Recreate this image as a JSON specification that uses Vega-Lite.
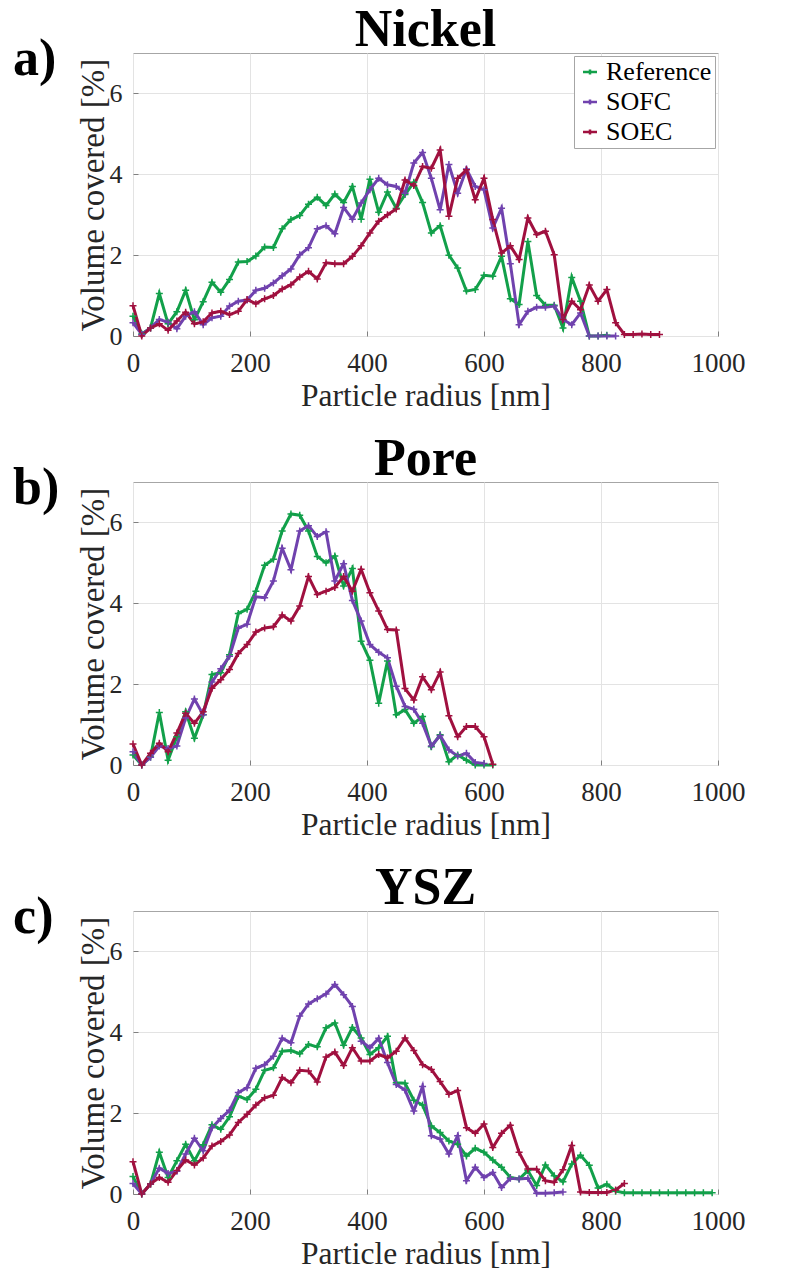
{
"$schema": "https://vega.github.io/schema/vega-lite/v6.json",
"padding": {"left": 12, "top": 3, "right": 5, "bottom": 0},
"background": "white",
"config": {
 "font": "Liberation Serif",
 "view": {"stroke": "#A6A6A6", "strokeWidth": 1},
 "axis": {"labelFont": "Liberation Serif", "labelColor": "#262626", "titleFont": "Liberation Serif", "titleFontWeight": "normal", "titleColor": "#262626", "gridColor": "#E3E3E3", "gridWidth": 1, "domain": false, "tickColor": "#808080", "tickSize": -5, "labelFlush": false},
 "axisX": {"labelFontSize": 27, "labelPadding": 19, "titleFontSize": 31.5, "titlePadding": 4, "format": "d"},
 "axisY": {"labelFontSize": 26, "labelPadding": 16, "titleFontSize": 33, "titlePadding": -1},
 "title": {"font": "Liberation Serif", "fontSize": 52, "fontWeight": "bold", "color": "#000000", "baseline": "alphabetic", "offset": -24, "frame": "group"},
 "concat": {"spacing": 20}
},
"datasets": {"d": [
{"p":"a","s":"Reference","r":0,"v":0.49},{"p":"a","s":"Reference","r":15,"v":0.05},{"p":"a","s":"Reference","r":30,"v":0.2},{"p":"a","s":"Reference","r":45,"v":1.05},{"p":"a","s":"Reference","r":60,"v":0.3},{"p":"a","s":"Reference","r":75,"v":0.6},{"p":"a","s":"Reference","r":90,"v":1.13},{"p":"a","s":"Reference","r":105,"v":0.4},{"p":"a","s":"Reference","r":120,"v":0.85},{"p":"a","s":"Reference","r":135,"v":1.33},{"p":"a","s":"Reference","r":150,"v":1.08},{"p":"a","s":"Reference","r":165,"v":1.4},{"p":"a","s":"Reference","r":180,"v":1.83},{"p":"a","s":"Reference","r":195,"v":1.84},{"p":"a","s":"Reference","r":210,"v":1.98},{"p":"a","s":"Reference","r":225,"v":2.2},{"p":"a","s":"Reference","r":240,"v":2.19},{"p":"a","s":"Reference","r":255,"v":2.65},{"p":"a","s":"Reference","r":270,"v":2.88},{"p":"a","s":"Reference","r":285,"v":2.98},{"p":"a","s":"Reference","r":300,"v":3.26},{"p":"a","s":"Reference","r":315,"v":3.43},{"p":"a","s":"Reference","r":330,"v":3.23},{"p":"a","s":"Reference","r":345,"v":3.51},{"p":"a","s":"Reference","r":360,"v":3.3},{"p":"a","s":"Reference","r":375,"v":3.7},{"p":"a","s":"Reference","r":390,"v":2.89},{"p":"a","s":"Reference","r":405,"v":3.88},{"p":"a","s":"Reference","r":420,"v":3.06},{"p":"a","s":"Reference","r":435,"v":3.56},{"p":"a","s":"Reference","r":450,"v":3.16},{"p":"a","s":"Reference","r":465,"v":3.5},{"p":"a","s":"Reference","r":480,"v":3.8},{"p":"a","s":"Reference","r":495,"v":3.3},{"p":"a","s":"Reference","r":510,"v":2.55},{"p":"a","s":"Reference","r":525,"v":2.73},{"p":"a","s":"Reference","r":540,"v":2.0},{"p":"a","s":"Reference","r":555,"v":1.68},{"p":"a","s":"Reference","r":570,"v":1.11},{"p":"a","s":"Reference","r":585,"v":1.15},{"p":"a","s":"Reference","r":600,"v":1.5},{"p":"a","s":"Reference","r":615,"v":1.48},{"p":"a","s":"Reference","r":630,"v":1.97},{"p":"a","s":"Reference","r":645,"v":0.92},{"p":"a","s":"Reference","r":660,"v":0.78},{"p":"a","s":"Reference","r":675,"v":2.34},{"p":"a","s":"Reference","r":690,"v":1.0},{"p":"a","s":"Reference","r":705,"v":0.76},{"p":"a","s":"Reference","r":720,"v":0.76},{"p":"a","s":"Reference","r":735,"v":0.2},{"p":"a","s":"Reference","r":750,"v":1.45},{"p":"a","s":"Reference","r":765,"v":0.86},{"p":"a","s":"Reference","r":780,"v":0.0},{"p":"a","s":"Reference","r":795,"v":0.0},{"p":"a","s":"Reference","r":810,"v":0.02},
{"p":"a","s":"SOFC","r":0,"v":0.33},{"p":"a","s":"SOFC","r":15,"v":0.04},{"p":"a","s":"SOFC","r":30,"v":0.2},{"p":"a","s":"SOFC","r":45,"v":0.41},{"p":"a","s":"SOFC","r":60,"v":0.34},{"p":"a","s":"SOFC","r":75,"v":0.18},{"p":"a","s":"SOFC","r":90,"v":0.49},{"p":"a","s":"SOFC","r":105,"v":0.6},{"p":"a","s":"SOFC","r":120,"v":0.28},{"p":"a","s":"SOFC","r":135,"v":0.45},{"p":"a","s":"SOFC","r":150,"v":0.49},{"p":"a","s":"SOFC","r":165,"v":0.74},{"p":"a","s":"SOFC","r":180,"v":0.86},{"p":"a","s":"SOFC","r":195,"v":0.89},{"p":"a","s":"SOFC","r":210,"v":1.13},{"p":"a","s":"SOFC","r":225,"v":1.18},{"p":"a","s":"SOFC","r":240,"v":1.31},{"p":"a","s":"SOFC","r":255,"v":1.49},{"p":"a","s":"SOFC","r":270,"v":1.66},{"p":"a","s":"SOFC","r":285,"v":2.01},{"p":"a","s":"SOFC","r":300,"v":2.18},{"p":"a","s":"SOFC","r":315,"v":2.65},{"p":"a","s":"SOFC","r":330,"v":2.73},{"p":"a","s":"SOFC","r":345,"v":2.53},{"p":"a","s":"SOFC","r":360,"v":3.18},{"p":"a","s":"SOFC","r":375,"v":2.89},{"p":"a","s":"SOFC","r":390,"v":3.29},{"p":"a","s":"SOFC","r":405,"v":3.62},{"p":"a","s":"SOFC","r":420,"v":3.9},{"p":"a","s":"SOFC","r":435,"v":3.74},{"p":"a","s":"SOFC","r":450,"v":3.7},{"p":"a","s":"SOFC","r":465,"v":3.53},{"p":"a","s":"SOFC","r":480,"v":4.28},{"p":"a","s":"SOFC","r":495,"v":4.54},{"p":"a","s":"SOFC","r":510,"v":3.9},{"p":"a","s":"SOFC","r":525,"v":3.12},{"p":"a","s":"SOFC","r":540,"v":4.24},{"p":"a","s":"SOFC","r":555,"v":3.53},{"p":"a","s":"SOFC","r":570,"v":4.13},{"p":"a","s":"SOFC","r":585,"v":3.7},{"p":"a","s":"SOFC","r":600,"v":3.62},{"p":"a","s":"SOFC","r":615,"v":2.67},{"p":"a","s":"SOFC","r":630,"v":3.16},{"p":"a","s":"SOFC","r":645,"v":1.79},{"p":"a","s":"SOFC","r":660,"v":0.28},{"p":"a","s":"SOFC","r":675,"v":0.61},{"p":"a","s":"SOFC","r":690,"v":0.71},{"p":"a","s":"SOFC","r":705,"v":0.71},{"p":"a","s":"SOFC","r":720,"v":0.74},{"p":"a","s":"SOFC","r":735,"v":0.41},{"p":"a","s":"SOFC","r":750,"v":0.28},{"p":"a","s":"SOFC","r":765,"v":0.57},{"p":"a","s":"SOFC","r":780,"v":0.0},{"p":"a","s":"SOFC","r":795,"v":0.0},{"p":"a","s":"SOFC","r":810,"v":0.0},{"p":"a","s":"SOFC","r":825,"v":0.0},
{"p":"a","s":"SOEC","r":0,"v":0.75},{"p":"a","s":"SOEC","r":15,"v":0.0},{"p":"a","s":"SOEC","r":30,"v":0.2},{"p":"a","s":"SOEC","r":45,"v":0.3},{"p":"a","s":"SOEC","r":60,"v":0.14},{"p":"a","s":"SOEC","r":75,"v":0.37},{"p":"a","s":"SOEC","r":90,"v":0.59},{"p":"a","s":"SOEC","r":105,"v":0.3},{"p":"a","s":"SOEC","r":120,"v":0.35},{"p":"a","s":"SOEC","r":135,"v":0.57},{"p":"a","s":"SOEC","r":150,"v":0.61},{"p":"a","s":"SOEC","r":165,"v":0.53},{"p":"a","s":"SOEC","r":180,"v":0.61},{"p":"a","s":"SOEC","r":195,"v":0.9},{"p":"a","s":"SOEC","r":210,"v":0.8},{"p":"a","s":"SOEC","r":225,"v":0.92},{"p":"a","s":"SOEC","r":240,"v":1.0},{"p":"a","s":"SOEC","r":255,"v":1.16},{"p":"a","s":"SOEC","r":270,"v":1.27},{"p":"a","s":"SOEC","r":285,"v":1.46},{"p":"a","s":"SOEC","r":300,"v":1.6},{"p":"a","s":"SOEC","r":315,"v":1.41},{"p":"a","s":"SOEC","r":330,"v":1.81},{"p":"a","s":"SOEC","r":345,"v":1.79},{"p":"a","s":"SOEC","r":360,"v":1.79},{"p":"a","s":"SOEC","r":375,"v":1.97},{"p":"a","s":"SOEC","r":390,"v":2.23},{"p":"a","s":"SOEC","r":405,"v":2.55},{"p":"a","s":"SOEC","r":420,"v":2.84},{"p":"a","s":"SOEC","r":435,"v":3.0},{"p":"a","s":"SOEC","r":450,"v":3.14},{"p":"a","s":"SOEC","r":465,"v":3.86},{"p":"a","s":"SOEC","r":480,"v":3.72},{"p":"a","s":"SOEC","r":495,"v":4.19},{"p":"a","s":"SOEC","r":510,"v":4.15},{"p":"a","s":"SOEC","r":525,"v":4.6},{"p":"a","s":"SOEC","r":540,"v":2.96},{"p":"a","s":"SOEC","r":555,"v":3.9},{"p":"a","s":"SOEC","r":570,"v":4.11},{"p":"a","s":"SOEC","r":585,"v":3.37},{"p":"a","s":"SOEC","r":600,"v":3.9},{"p":"a","s":"SOEC","r":615,"v":2.88},{"p":"a","s":"SOEC","r":630,"v":2.05},{"p":"a","s":"SOEC","r":645,"v":2.23},{"p":"a","s":"SOEC","r":660,"v":1.89},{"p":"a","s":"SOEC","r":675,"v":2.92},{"p":"a","s":"SOEC","r":690,"v":2.51},{"p":"a","s":"SOEC","r":705,"v":2.59},{"p":"a","s":"SOEC","r":720,"v":2.01},{"p":"a","s":"SOEC","r":735,"v":0.41},{"p":"a","s":"SOEC","r":750,"v":0.86},{"p":"a","s":"SOEC","r":765,"v":0.65},{"p":"a","s":"SOEC","r":780,"v":1.26},{"p":"a","s":"SOEC","r":795,"v":0.86},{"p":"a","s":"SOEC","r":810,"v":1.15},{"p":"a","s":"SOEC","r":825,"v":0.33},{"p":"a","s":"SOEC","r":840,"v":0.04},{"p":"a","s":"SOEC","r":855,"v":0.04},{"p":"a","s":"SOEC","r":870,"v":0.05},{"p":"a","s":"SOEC","r":885,"v":0.04},{"p":"a","s":"SOEC","r":900,"v":0.04},
{"p":"b","s":"Reference","r":0,"v":0.25},{"p":"b","s":"Reference","r":15,"v":0.0},{"p":"b","s":"Reference","r":30,"v":0.2},{"p":"b","s":"Reference","r":45,"v":1.3},{"p":"b","s":"Reference","r":60,"v":0.12},{"p":"b","s":"Reference","r":75,"v":0.7},{"p":"b","s":"Reference","r":90,"v":1.32},{"p":"b","s":"Reference","r":105,"v":0.66},{"p":"b","s":"Reference","r":120,"v":1.24},{"p":"b","s":"Reference","r":135,"v":2.24},{"p":"b","s":"Reference","r":150,"v":2.28},{"p":"b","s":"Reference","r":165,"v":2.73},{"p":"b","s":"Reference","r":180,"v":3.75},{"p":"b","s":"Reference","r":195,"v":3.85},{"p":"b","s":"Reference","r":210,"v":4.3},{"p":"b","s":"Reference","r":225,"v":4.94},{"p":"b","s":"Reference","r":240,"v":5.09},{"p":"b","s":"Reference","r":255,"v":5.79},{"p":"b","s":"Reference","r":270,"v":6.21},{"p":"b","s":"Reference","r":285,"v":6.18},{"p":"b","s":"Reference","r":300,"v":5.79},{"p":"b","s":"Reference","r":315,"v":5.16},{"p":"b","s":"Reference","r":330,"v":5.0},{"p":"b","s":"Reference","r":345,"v":5.17},{"p":"b","s":"Reference","r":360,"v":4.43},{"p":"b","s":"Reference","r":375,"v":4.86},{"p":"b","s":"Reference","r":390,"v":3.06},{"p":"b","s":"Reference","r":405,"v":2.59},{"p":"b","s":"Reference","r":420,"v":1.53},{"p":"b","s":"Reference","r":435,"v":2.57},{"p":"b","s":"Reference","r":450,"v":1.24},{"p":"b","s":"Reference","r":465,"v":1.37},{"p":"b","s":"Reference","r":480,"v":1.03},{"p":"b","s":"Reference","r":495,"v":1.2},{"p":"b","s":"Reference","r":510,"v":0.45},{"p":"b","s":"Reference","r":525,"v":0.75},{"p":"b","s":"Reference","r":540,"v":0.08},{"p":"b","s":"Reference","r":555,"v":0.25},{"p":"b","s":"Reference","r":570,"v":0.12},{"p":"b","s":"Reference","r":585,"v":0.0},{"p":"b","s":"Reference","r":600,"v":0.0},{"p":"b","s":"Reference","r":615,"v":0.0},
{"p":"b","s":"SOFC","r":0,"v":0.33},{"p":"b","s":"SOFC","r":15,"v":0.0},{"p":"b","s":"SOFC","r":30,"v":0.19},{"p":"b","s":"SOFC","r":45,"v":0.47},{"p":"b","s":"SOFC","r":60,"v":0.41},{"p":"b","s":"SOFC","r":75,"v":0.47},{"p":"b","s":"SOFC","r":90,"v":1.16},{"p":"b","s":"SOFC","r":105,"v":1.63},{"p":"b","s":"SOFC","r":120,"v":1.24},{"p":"b","s":"SOFC","r":135,"v":2.05},{"p":"b","s":"SOFC","r":150,"v":2.38},{"p":"b","s":"SOFC","r":165,"v":2.69},{"p":"b","s":"SOFC","r":180,"v":3.39},{"p":"b","s":"SOFC","r":195,"v":3.48},{"p":"b","s":"SOFC","r":210,"v":4.16},{"p":"b","s":"SOFC","r":225,"v":4.14},{"p":"b","s":"SOFC","r":240,"v":4.55},{"p":"b","s":"SOFC","r":255,"v":5.36},{"p":"b","s":"SOFC","r":270,"v":4.83},{"p":"b","s":"SOFC","r":285,"v":5.79},{"p":"b","s":"SOFC","r":300,"v":5.92},{"p":"b","s":"SOFC","r":315,"v":5.65},{"p":"b","s":"SOFC","r":330,"v":5.77},{"p":"b","s":"SOFC","r":345,"v":4.55},{"p":"b","s":"SOFC","r":360,"v":4.98},{"p":"b","s":"SOFC","r":375,"v":4.07},{"p":"b","s":"SOFC","r":390,"v":3.56},{"p":"b","s":"SOFC","r":405,"v":2.98},{"p":"b","s":"SOFC","r":420,"v":2.79},{"p":"b","s":"SOFC","r":435,"v":2.65},{"p":"b","s":"SOFC","r":450,"v":1.95},{"p":"b","s":"SOFC","r":465,"v":1.45},{"p":"b","s":"SOFC","r":480,"v":1.38},{"p":"b","s":"SOFC","r":495,"v":1.03},{"p":"b","s":"SOFC","r":510,"v":0.47},{"p":"b","s":"SOFC","r":525,"v":0.73},{"p":"b","s":"SOFC","r":540,"v":0.37},{"p":"b","s":"SOFC","r":555,"v":0.22},{"p":"b","s":"SOFC","r":570,"v":0.29},{"p":"b","s":"SOFC","r":585,"v":0.06},{"p":"b","s":"SOFC","r":600,"v":0.04},
{"p":"b","s":"SOEC","r":0,"v":0.52},{"p":"b","s":"SOEC","r":15,"v":0.0},{"p":"b","s":"SOEC","r":30,"v":0.29},{"p":"b","s":"SOEC","r":45,"v":0.54},{"p":"b","s":"SOEC","r":60,"v":0.33},{"p":"b","s":"SOEC","r":75,"v":0.79},{"p":"b","s":"SOEC","r":90,"v":1.28},{"p":"b","s":"SOEC","r":105,"v":1.03},{"p":"b","s":"SOEC","r":120,"v":1.32},{"p":"b","s":"SOEC","r":135,"v":1.9},{"p":"b","s":"SOEC","r":150,"v":2.11},{"p":"b","s":"SOEC","r":165,"v":2.36},{"p":"b","s":"SOEC","r":180,"v":2.76},{"p":"b","s":"SOEC","r":195,"v":2.98},{"p":"b","s":"SOEC","r":210,"v":3.29},{"p":"b","s":"SOEC","r":225,"v":3.39},{"p":"b","s":"SOEC","r":240,"v":3.42},{"p":"b","s":"SOEC","r":255,"v":3.71},{"p":"b","s":"SOEC","r":270,"v":3.56},{"p":"b","s":"SOEC","r":285,"v":3.93},{"p":"b","s":"SOEC","r":300,"v":4.66},{"p":"b","s":"SOEC","r":315,"v":4.22},{"p":"b","s":"SOEC","r":330,"v":4.3},{"p":"b","s":"SOEC","r":345,"v":4.39},{"p":"b","s":"SOEC","r":360,"v":4.66},{"p":"b","s":"SOEC","r":375,"v":4.3},{"p":"b","s":"SOEC","r":390,"v":4.84},{"p":"b","s":"SOEC","r":405,"v":4.26},{"p":"b","s":"SOEC","r":420,"v":3.81},{"p":"b","s":"SOEC","r":435,"v":3.35},{"p":"b","s":"SOEC","r":450,"v":3.34},{"p":"b","s":"SOEC","r":465,"v":1.89},{"p":"b","s":"SOEC","r":480,"v":1.61},{"p":"b","s":"SOEC","r":495,"v":2.18},{"p":"b","s":"SOEC","r":510,"v":1.86},{"p":"b","s":"SOEC","r":525,"v":2.3},{"p":"b","s":"SOEC","r":540,"v":1.22},{"p":"b","s":"SOEC","r":555,"v":0.7},{"p":"b","s":"SOEC","r":570,"v":0.95},{"p":"b","s":"SOEC","r":585,"v":0.95},{"p":"b","s":"SOEC","r":600,"v":0.7},{"p":"b","s":"SOEC","r":615,"v":0.02},
{"p":"c","s":"Reference","r":0,"v":0.43},{"p":"c","s":"Reference","r":15,"v":0.0},{"p":"c","s":"Reference","r":30,"v":0.25},{"p":"c","s":"Reference","r":45,"v":1.03},{"p":"c","s":"Reference","r":60,"v":0.41},{"p":"c","s":"Reference","r":75,"v":0.82},{"p":"c","s":"Reference","r":90,"v":1.23},{"p":"c","s":"Reference","r":105,"v":0.82},{"p":"c","s":"Reference","r":120,"v":1.22},{"p":"c","s":"Reference","r":135,"v":1.71},{"p":"c","s":"Reference","r":150,"v":1.6},{"p":"c","s":"Reference","r":165,"v":1.91},{"p":"c","s":"Reference","r":180,"v":2.42},{"p":"c","s":"Reference","r":195,"v":2.34},{"p":"c","s":"Reference","r":210,"v":2.59},{"p":"c","s":"Reference","r":225,"v":3.06},{"p":"c","s":"Reference","r":240,"v":3.12},{"p":"c","s":"Reference","r":255,"v":3.53},{"p":"c","s":"Reference","r":270,"v":3.55},{"p":"c","s":"Reference","r":285,"v":3.47},{"p":"c","s":"Reference","r":300,"v":3.7},{"p":"c","s":"Reference","r":315,"v":3.64},{"p":"c","s":"Reference","r":330,"v":4.11},{"p":"c","s":"Reference","r":345,"v":4.23},{"p":"c","s":"Reference","r":360,"v":3.68},{"p":"c","s":"Reference","r":375,"v":4.12},{"p":"c","s":"Reference","r":390,"v":3.86},{"p":"c","s":"Reference","r":405,"v":3.45},{"p":"c","s":"Reference","r":420,"v":3.62},{"p":"c","s":"Reference","r":435,"v":3.9},{"p":"c","s":"Reference","r":450,"v":2.75},{"p":"c","s":"Reference","r":465,"v":2.74},{"p":"c","s":"Reference","r":480,"v":2.32},{"p":"c","s":"Reference","r":495,"v":2.2},{"p":"c","s":"Reference","r":510,"v":1.68},{"p":"c","s":"Reference","r":525,"v":1.52},{"p":"c","s":"Reference","r":540,"v":1.31},{"p":"c","s":"Reference","r":555,"v":1.23},{"p":"c","s":"Reference","r":570,"v":0.94},{"p":"c","s":"Reference","r":585,"v":1.13},{"p":"c","s":"Reference","r":600,"v":1.03},{"p":"c","s":"Reference","r":615,"v":0.84},{"p":"c","s":"Reference","r":630,"v":0.66},{"p":"c","s":"Reference","r":645,"v":0.41},{"p":"c","s":"Reference","r":660,"v":0.37},{"p":"c","s":"Reference","r":675,"v":0.58},{"p":"c","s":"Reference","r":690,"v":0.21},{"p":"c","s":"Reference","r":705,"v":0.72},{"p":"c","s":"Reference","r":720,"v":0.45},{"p":"c","s":"Reference","r":735,"v":0.3},{"p":"c","s":"Reference","r":750,"v":0.74},{"p":"c","s":"Reference","r":765,"v":0.96},{"p":"c","s":"Reference","r":780,"v":0.71},{"p":"c","s":"Reference","r":795,"v":0.15},{"p":"c","s":"Reference","r":810,"v":0.24},{"p":"c","s":"Reference","r":825,"v":0.07},{"p":"c","s":"Reference","r":840,"v":0.03},{"p":"c","s":"Reference","r":855,"v":0.03},{"p":"c","s":"Reference","r":870,"v":0.03},{"p":"c","s":"Reference","r":885,"v":0.03},{"p":"c","s":"Reference","r":900,"v":0.03},{"p":"c","s":"Reference","r":915,"v":0.03},{"p":"c","s":"Reference","r":930,"v":0.03},{"p":"c","s":"Reference","r":945,"v":0.03},{"p":"c","s":"Reference","r":960,"v":0.03},{"p":"c","s":"Reference","r":975,"v":0.03},{"p":"c","s":"Reference","r":990,"v":0.03},
{"p":"c","s":"SOFC","r":0,"v":0.26},{"p":"c","s":"SOFC","r":15,"v":0.0},{"p":"c","s":"SOFC","r":30,"v":0.25},{"p":"c","s":"SOFC","r":45,"v":0.64},{"p":"c","s":"SOFC","r":60,"v":0.51},{"p":"c","s":"SOFC","r":75,"v":0.56},{"p":"c","s":"SOFC","r":90,"v":0.99},{"p":"c","s":"SOFC","r":105,"v":1.38},{"p":"c","s":"SOFC","r":120,"v":1.07},{"p":"c","s":"SOFC","r":135,"v":1.64},{"p":"c","s":"SOFC","r":150,"v":1.87},{"p":"c","s":"SOFC","r":165,"v":2.07},{"p":"c","s":"SOFC","r":180,"v":2.51},{"p":"c","s":"SOFC","r":195,"v":2.63},{"p":"c","s":"SOFC","r":210,"v":3.11},{"p":"c","s":"SOFC","r":225,"v":3.2},{"p":"c","s":"SOFC","r":240,"v":3.41},{"p":"c","s":"SOFC","r":255,"v":3.85},{"p":"c","s":"SOFC","r":270,"v":3.74},{"p":"c","s":"SOFC","r":285,"v":4.4},{"p":"c","s":"SOFC","r":300,"v":4.7},{"p":"c","s":"SOFC","r":315,"v":4.83},{"p":"c","s":"SOFC","r":330,"v":4.95},{"p":"c","s":"SOFC","r":345,"v":5.18},{"p":"c","s":"SOFC","r":360,"v":4.93},{"p":"c","s":"SOFC","r":375,"v":4.64},{"p":"c","s":"SOFC","r":390,"v":3.78},{"p":"c","s":"SOFC","r":405,"v":3.62},{"p":"c","s":"SOFC","r":420,"v":3.85},{"p":"c","s":"SOFC","r":435,"v":3.25},{"p":"c","s":"SOFC","r":450,"v":2.71},{"p":"c","s":"SOFC","r":465,"v":2.57},{"p":"c","s":"SOFC","r":480,"v":2.05},{"p":"c","s":"SOFC","r":495,"v":2.66},{"p":"c","s":"SOFC","r":510,"v":1.44},{"p":"c","s":"SOFC","r":525,"v":1.36},{"p":"c","s":"SOFC","r":540,"v":0.99},{"p":"c","s":"SOFC","r":555,"v":1.44},{"p":"c","s":"SOFC","r":570,"v":0.33},{"p":"c","s":"SOFC","r":585,"v":0.66},{"p":"c","s":"SOFC","r":600,"v":0.41},{"p":"c","s":"SOFC","r":615,"v":0.53},{"p":"c","s":"SOFC","r":630,"v":0.16},{"p":"c","s":"SOFC","r":645,"v":0.39},{"p":"c","s":"SOFC","r":660,"v":0.37},{"p":"c","s":"SOFC","r":675,"v":0.39},{"p":"c","s":"SOFC","r":690,"v":0.02},{"p":"c","s":"SOFC","r":705,"v":0.02},{"p":"c","s":"SOFC","r":720,"v":0.03},{"p":"c","s":"SOFC","r":735,"v":0.05},
{"p":"c","s":"SOEC","r":0,"v":0.8},{"p":"c","s":"SOEC","r":15,"v":0.0},{"p":"c","s":"SOEC","r":30,"v":0.25},{"p":"c","s":"SOEC","r":45,"v":0.41},{"p":"c","s":"SOEC","r":60,"v":0.29},{"p":"c","s":"SOEC","r":75,"v":0.58},{"p":"c","s":"SOEC","r":90,"v":0.84},{"p":"c","s":"SOEC","r":105,"v":0.72},{"p":"c","s":"SOEC","r":120,"v":0.89},{"p":"c","s":"SOEC","r":135,"v":1.19},{"p":"c","s":"SOEC","r":150,"v":1.3},{"p":"c","s":"SOEC","r":165,"v":1.46},{"p":"c","s":"SOEC","r":180,"v":1.77},{"p":"c","s":"SOEC","r":195,"v":1.97},{"p":"c","s":"SOEC","r":210,"v":2.2},{"p":"c","s":"SOEC","r":225,"v":2.38},{"p":"c","s":"SOEC","r":240,"v":2.44},{"p":"c","s":"SOEC","r":255,"v":2.88},{"p":"c","s":"SOEC","r":270,"v":2.75},{"p":"c","s":"SOEC","r":285,"v":3.06},{"p":"c","s":"SOEC","r":300,"v":3.04},{"p":"c","s":"SOEC","r":315,"v":2.77},{"p":"c","s":"SOEC","r":330,"v":3.39},{"p":"c","s":"SOEC","r":345,"v":3.51},{"p":"c","s":"SOEC","r":360,"v":3.18},{"p":"c","s":"SOEC","r":375,"v":3.62},{"p":"c","s":"SOEC","r":390,"v":3.29},{"p":"c","s":"SOEC","r":405,"v":3.29},{"p":"c","s":"SOEC","r":420,"v":3.45},{"p":"c","s":"SOEC","r":435,"v":3.37},{"p":"c","s":"SOEC","r":450,"v":3.53},{"p":"c","s":"SOEC","r":465,"v":3.86},{"p":"c","s":"SOEC","r":480,"v":3.55},{"p":"c","s":"SOEC","r":495,"v":3.2},{"p":"c","s":"SOEC","r":510,"v":3.08},{"p":"c","s":"SOEC","r":525,"v":2.78},{"p":"c","s":"SOEC","r":540,"v":2.47},{"p":"c","s":"SOEC","r":555,"v":2.56},{"p":"c","s":"SOEC","r":570,"v":1.64},{"p":"c","s":"SOEC","r":585,"v":1.5},{"p":"c","s":"SOEC","r":600,"v":1.73},{"p":"c","s":"SOEC","r":615,"v":1.15},{"p":"c","s":"SOEC","r":630,"v":1.5},{"p":"c","s":"SOEC","r":645,"v":1.7},{"p":"c","s":"SOEC","r":660,"v":1.03},{"p":"c","s":"SOEC","r":675,"v":0.62},{"p":"c","s":"SOEC","r":690,"v":0.61},{"p":"c","s":"SOEC","r":705,"v":0.33},{"p":"c","s":"SOEC","r":720,"v":0.29},{"p":"c","s":"SOEC","r":735,"v":0.6},{"p":"c","s":"SOEC","r":750,"v":1.2},{"p":"c","s":"SOEC","r":765,"v":0.05},{"p":"c","s":"SOEC","r":780,"v":0.04},{"p":"c","s":"SOEC","r":795,"v":0.04},{"p":"c","s":"SOEC","r":810,"v":0.04},{"p":"c","s":"SOEC","r":825,"v":0.1},{"p":"c","s":"SOEC","r":840,"v":0.26}
]},
"resolve": {"scale": {"color": "independent"}, "legend": {"color": "independent"}},
"vconcat": [
 {"title": "Nickel", "width": 585, "height": 283,
  "layer": [
   {"data": {"name": "d"}, "transform": [{"filter": "datum.p == 'a'"}],
    "mark": {"type": "line", "strokeWidth": 3, "point": {"shape": "M-1,0H1M0,-1V1", "filled": false, "size": 49, "strokeWidth": 1.5}},
    "encoding": {
     "x": {"field": "r", "type": "quantitative", "scale": {"domain": [0, 1000], "nice": false}, "axis": {"values": [0,200,400,600,800,1000], "title": "Particle radius [nm]", "labelFont": "Liberation Serif", "format": "d"}},
     "y": {"field": "v", "type": "quantitative", "scale": {"domain": [0, 7], "nice": false}, "axis": {"values": [0,2,4,6], "title": "Volume covered [%]", "labelFont": "Liberation Serif"}},
     "color": {"field": "s", "type": "nominal", "sort": ["Reference","SOFC","SOEC"], "scale": {"domain": ["Reference","SOFC","SOEC"], "range": ["#12A04A","#7042AE","#A0103F"]},
      "legend": {"title": null, "orient": "top-right", "offset": 3, "fillColor": "white", "strokeColor": "#A6A6A6", "padding": 3, "labelFont": "Liberation Serif", "labelFontSize": 26, "labelColor": "#000000", "labelOffset": 3, "rowPadding": 4, "symbolType": "M-1,0H1M0,-0.35V0.35", "symbolSize": 196, "symbolStrokeWidth": 2.5}}
    }},
   {"data": {"values": [{"tag": "a)"}]},
    "mark": {"type": "text", "align": "left", "baseline": "alphabetic", "font": "Liberation Serif", "fontWeight": "bold", "fontSize": 52, "color": "#000000"},
    "encoding": {"x": {"datum": -205, "type": "quantitative"}, "y": {"datum": 6.45, "type": "quantitative"}, "text": {"field": "tag"}}}
  ]},
 {"title": "Pore", "width": 585, "height": 283,
  "layer": [
   {"data": {"name": "d"}, "transform": [{"filter": "datum.p == 'b'"}],
    "mark": {"type": "line", "strokeWidth": 3, "point": {"shape": "M-1,0H1M0,-1V1", "filled": false, "size": 49, "strokeWidth": 1.5}},
    "encoding": {
     "x": {"field": "r", "type": "quantitative", "scale": {"domain": [0, 1000], "nice": false}, "axis": {"values": [0,200,400,600,800,1000], "title": "Particle radius [nm]", "labelFont": "Liberation Serif", "format": "d"}},
     "y": {"field": "v", "type": "quantitative", "scale": {"domain": [0, 7], "nice": false}, "axis": {"values": [0,2,4,6], "title": "Volume covered [%]", "labelFont": "Liberation Serif"}},
     "color": {"field": "s", "type": "nominal", "scale": {"domain": ["Reference","SOFC","SOEC"], "range": ["#12A04A","#7042AE","#A0103F"]}, "legend": null}
    }},
   {"data": {"values": [{"tag": "b)"}]},
    "mark": {"type": "text", "align": "left", "baseline": "alphabetic", "font": "Liberation Serif", "fontWeight": "bold", "fontSize": 52, "color": "#000000"},
    "encoding": {"x": {"datum": -205, "type": "quantitative"}, "y": {"datum": 6.45, "type": "quantitative"}, "text": {"field": "tag"}}}
  ]},
 {"title": "YSZ", "width": 585, "height": 283,
  "layer": [
   {"data": {"name": "d"}, "transform": [{"filter": "datum.p == 'c'"}],
    "mark": {"type": "line", "strokeWidth": 3, "point": {"shape": "M-1,0H1M0,-1V1", "filled": false, "size": 49, "strokeWidth": 1.5}},
    "encoding": {
     "x": {"field": "r", "type": "quantitative", "scale": {"domain": [0, 1000], "nice": false}, "axis": {"values": [0,200,400,600,800,1000], "title": "Particle radius [nm]", "labelFont": "Liberation Serif", "format": "d"}},
     "y": {"field": "v", "type": "quantitative", "scale": {"domain": [0, 7], "nice": false}, "axis": {"values": [0,2,4,6], "title": "Volume covered [%]", "labelFont": "Liberation Serif"}},
     "color": {"field": "s", "type": "nominal", "scale": {"domain": ["Reference","SOFC","SOEC"], "range": ["#12A04A","#7042AE","#A0103F"]}, "legend": null}
    }},
   {"data": {"values": [{"tag": "c)"}]},
    "mark": {"type": "text", "align": "left", "baseline": "alphabetic", "font": "Liberation Serif", "fontWeight": "bold", "fontSize": 52, "color": "#000000"},
    "encoding": {"x": {"datum": -205, "type": "quantitative"}, "y": {"datum": 6.45, "type": "quantitative"}, "text": {"field": "tag"}}}
  ]}
]
}
